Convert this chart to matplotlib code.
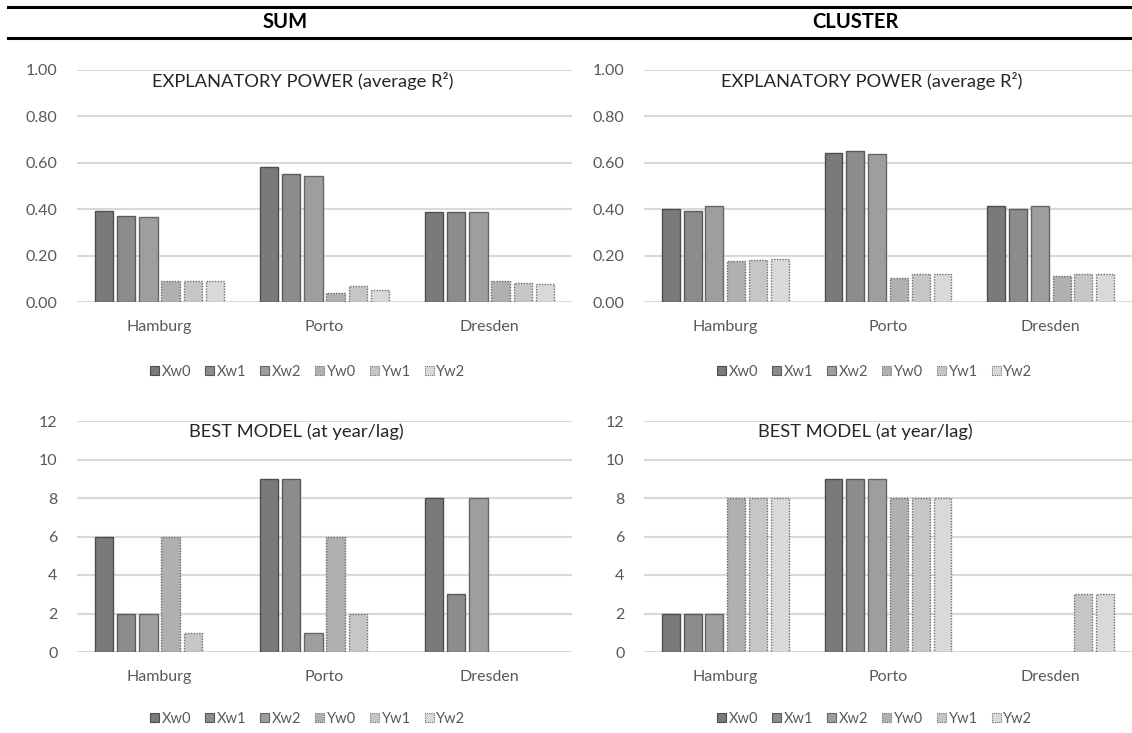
import matplotlib
matplotlib.use("Agg")
import matplotlib.pyplot as plt
from matplotlib.patches import Patch
from matplotlib.lines import Line2D
import numpy as np

plt.rcParams['font.family'] = ['Lato', 'DejaVu Sans']

cities = ["Hamburg", "Porto", "Dresden"]
series = ["Xw0", "Xw1", "Xw2", "Yw0", "Yw1", "Yw2"]

# average R² per city and series
sum_r2 = {
    "Xw0": [0.393, 0.584, 0.386],
    "Xw1": [0.369, 0.550, 0.386],
    "Xw2": [0.366, 0.543, 0.389],
    "Yw0": [0.092, 0.037, 0.089],
    "Yw1": [0.092, 0.070, 0.081],
    "Yw2": [0.089, 0.050, 0.076],
}
cluster_r2 = {
    "Xw0": [0.402, 0.644, 0.412],
    "Xw1": [0.393, 0.649, 0.402],
    "Xw2": [0.412, 0.639, 0.413],
    "Yw0": [0.177, 0.105, 0.110],
    "Yw1": [0.181, 0.121, 0.119],
    "Yw2": [0.186, 0.121, 0.119],
}
# best model (year / lag)
sum_best = {
    "Xw0": [6, 9, 8],
    "Xw1": [2, 9, 3],
    "Xw2": [2, 1, 8],
    "Yw0": [6, 6, 0],
    "Yw1": [1, 2, 0],
    "Yw2": [0, 0, 0],
}
cluster_best = {
    "Xw0": [2, 9, 0],
    "Xw1": [2, 9, 0],
    "Xw2": [2, 9, 0],
    "Yw0": [8, 8, 0],
    "Yw1": [8, 8, 3],
    "Yw2": [8, 8, 3],
}

fills = ["#7a7a7a", "#8c8c8c", "#9e9e9e", "#b0b0b0", "#c6c6c6", "#d9d9d9"]
edges = ["#4d4d4d", "#5a5a5a", "#666666", "#666666", "#6e6e6e", "#6e6e6e"]
styles = ["solid", "solid", "solid", (0, (1, 1)), (0, (1, 1)), (0, (1, 1))]

W, H = 1132, 733
fig = plt.figure(figsize=(W / 100, H / 100), dpi=100)

TXT = "#595959"
GRID = "#d9d9d9"


def px_axes(x0, x1, ytop, ybot):
    return fig.add_axes([x0 / W, 1 - ybot / H, (x1 - x0) / W, (ybot - ytop) / H])


def draw(ax, data, ymax, step, fmt, title, title_x):
    x = np.arange(len(cities))
    slot, bw = 0.134, 0.11
    for i, s in enumerate(series):
        vals = np.asarray(data[s], dtype=float)
        keep = vals > 0  # empty slots draw nothing
        ax.bar((x + (i - 2.5) * slot)[keep], vals[keep], width=bw, color=fills[i],
               edgecolor=edges[i], linewidth=1.0, linestyle=styles[i], zorder=3)
    ax.set_xlim(-0.5, len(cities) - 0.5)
    ax.set_ylim(0, ymax)
    ax.set_yticks(np.arange(0, ymax + step / 2, step))
    ax.yaxis.set_major_formatter(plt.FuncFormatter(lambda v, p: fmt.format(v)))
    ax.set_xticks(x)
    ax.set_xticklabels(cities)
    ax.tick_params(axis='both', length=0, labelsize=11.5, labelcolor=TXT)
    ax.tick_params(axis='y', pad=14)
    ax.tick_params(axis='x', pad=13)
    for sp in ax.spines.values():
        sp.set_visible(False)
    ax.grid(axis='y', color=GRID, linewidth=1.5, zorder=0)
    ax.set_axisbelow(True)
    bb = ax.get_position()
    fig.text(title_x / W, bb.y1 - 0.048 * bb.height, title, ha='center',
             va='center', fontsize=13.2, color="#262626", zorder=5)


def legend(cx, cy):
    handles = [Patch(facecolor=fills[i], edgecolor=edges[i], linewidth=0.8,
                     linestyle=styles[i]) for i in range(len(series))]
    fig.legend(handles, series, loc='center', bbox_to_anchor=(cx / W, 1 - cy / H),
               ncol=6, frameon=False, fontsize=10.5, labelcolor=TXT,
               handlelength=0.6, handleheight=0.6, handletextpad=0.2,
               columnspacing=0.95, borderaxespad=0)


ax1 = px_axes(77, 572, 70, 302)
draw(ax1, sum_r2, 1.0, 0.2, "{:.2f}", "EXPLANATORY POWER (average R²)", 303)
ax2 = px_axes(644, 1132, 70, 302)
draw(ax2, cluster_r2, 1.0, 0.2, "{:.2f}", "EXPLANATORY POWER (average R²)", 872)
ax3 = px_axes(77, 572, 421, 652)
draw(ax3, sum_best, 12, 2, "{:.0f}", "BEST MODEL (at year/lag)", 296)
ax4 = px_axes(644, 1132, 421, 652)
draw(ax4, cluster_best, 12, 2, "{:.0f}", "BEST MODEL (at year/lag)", 865)

legend(308, 372)
legend(875, 372)
legend(308, 719)
legend(875, 719)

# header band
for yy in (7, 38):
    fig.add_artist(Line2D([8 / W, 1.0], [1 - yy / H, 1 - yy / H], color='black',
                          linewidth=2.2, transform=fig.transFigure))
fig.text(285 / W, 1 - 22 / H, "SUM", ha='center', va='center',
         fontsize=14.5, fontweight='bold', color='black')
fig.text(855 / W, 1 - 22 / H, "CLUSTER", ha='center', va='center',
         fontsize=14.5, fontweight='bold', color='black')

fig.savefig("out.png", dpi=100, facecolor='white')
